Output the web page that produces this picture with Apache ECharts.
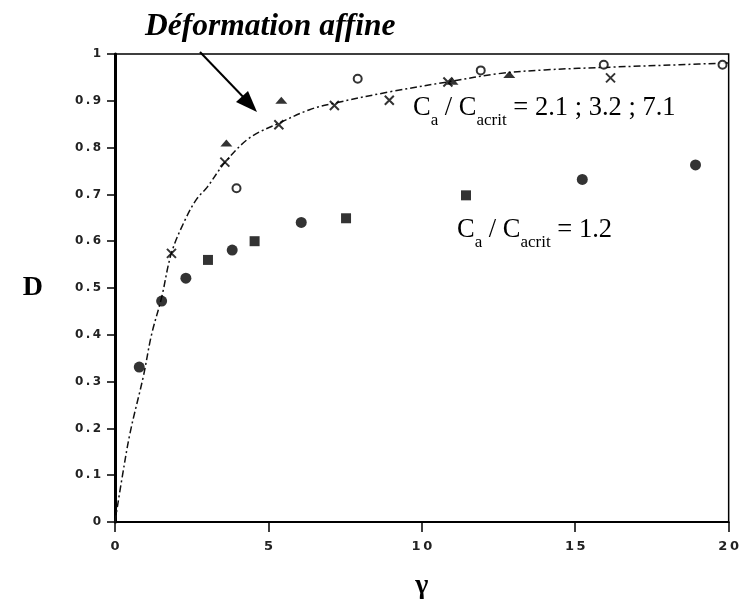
<!DOCTYPE html>
<html>
<head>
<meta charset="utf-8">
<style>
  html, body { margin: 0; padding: 0; background: #fff; }
  #chart { width: 742px; height: 605px; }
</style>
<script src="https://cdn.jsdelivr.net/npm/echarts@6/dist/echarts.min.js"></script>
</head>
<body>
<div id="chart"></div>
<script>
// D versus shear strain γ for several concentration ratios Ca / Cacrit

// Affine deformation prediction (dash-dot curve)
const affineGamma = [0, 0.22, 0.49, 0.92, 1.19, 1.52, 1.84, 2.28, 2.66, 3.0, 3.58, 4.39, 5.34, 6.34, 7.15, 8.94, 10.9, 12.5, 14.0, 16.2, 18.4, 20];
const affineD     = [0, 0.09, 0.19, 0.31, 0.40, 0.48, 0.575, 0.645, 0.69, 0.715, 0.768, 0.821, 0.852, 0.881, 0.895, 0.919, 0.941, 0.958, 0.966, 0.972, 0.977, 0.981];

// Ca / Cacrit = 1.2 (filled markers)
const lowDotGamma = [0.79, 1.52, 2.31, 3.82, 6.07, 15.23, 18.92];
const lowDotD     = [0.331, 0.472, 0.521, 0.581, 0.640, 0.732, 0.763];
const lowSqGamma  = [3.03, 4.55, 7.53, 11.44];
const lowSqD      = [0.560, 0.600, 0.649, 0.698];

// Ca / Cacrit = 2.1 ; 3.2 ; 7.1
const crossGamma  = [1.84, 3.58, 5.34, 7.15, 8.94, 10.85, 16.15];
const crossD      = [0.574, 0.769, 0.849, 0.890, 0.901, 0.940, 0.949];
const triGamma    = [3.63, 5.42, 11.0, 12.85];
const triD        = [0.810, 0.901, 0.942, 0.956];
const ringGamma   = [3.96, 7.91, 11.92, 15.93, 19.8];
const ringD       = [0.713, 0.947, 0.965, 0.977, 0.977];

// Axis ticks
const xTicks = [0, 5, 10, 15, 20];
const yTicks = [0, 0.1, 0.2, 0.3, 0.4, 0.5, 0.6, 0.7, 0.8, 0.9, 1];

const pairs = (xs, ys) => xs.map((x, i) => [x, ys[i]]);
// spread tick-label glyphs a little with thin spaces
const spaced = s => s.split('').join('\u2009');

const chart = echarts.init(document.getElementById('chart'), null, { renderer: 'canvas' });

const serif = '"Liberation Serif", "Times New Roman", serif';
const sans = '"DejaVu Sans", Arial, sans-serif';

const annotRich = {
  m: { fontFamily: serif, fontSize: 26.5, fill: '#000', verticalAlign: 'bottom', lineHeight: 28 },
  s: { fontFamily: serif, fontSize: 17, fill: '#000', verticalAlign: 'bottom', lineHeight: 20, padding: [0, 0, -7, 0] }
};

chart.setOption({
  animation: false,
  backgroundColor: '#fff',
  grid: {
    left: 115, right: 12, top: 54, bottom: 71,
    show: true, borderColor: '#000', borderWidth: 1.5, backgroundColor: 'transparent'
  },
  xAxis: {
    type: 'value', min: 0, max: 20, interval: 5,
    axisLine: { show: true, onZero: false, lineStyle: { color: '#000', width: 2 } },
    axisTick: { show: true, inside: false, length: 10, lineStyle: { color: '#000', width: 1.5 } },
    axisLabel: {
      color: '#222', fontFamily: sans, fontSize: 13, fontWeight: 'bold', margin: 18,
      formatter: v => xTicks.includes(v) ? spaced(String(v)) : ''
    },
    splitLine: { show: false },
    name: 'γ', nameLocation: 'middle', nameGap: 50,
    nameTextStyle: { fontFamily: serif, fontWeight: 'bold', fontSize: 28, color: '#000' }
  },
  yAxis: {
    type: 'value', min: 0, max: 1, interval: 0.1,
    axisLine: { show: true, onZero: false, lineStyle: { color: '#000', width: 3 } },
    axisTick: { show: true, inside: false, length: 8, lineStyle: { color: '#000', width: 1.5 } },
    axisLabel: {
      color: '#222', fontFamily: sans, fontSize: 12, fontWeight: 'bold', margin: 14,
      formatter: v => {
        const t = yTicks.find(k => Math.abs(k - v) < 1e-6);
        return t === undefined ? '' : spaced(String(t));
      }
    },
    splitLine: { show: false },
    name: 'D', nameLocation: 'middle', nameGap: 72, nameRotate: 0,
    nameTextStyle: { fontFamily: serif, fontWeight: 'bold', fontSize: 28, color: '#000', padding: [0, 0, 28, 0] }
  },
  series: [
    {
      name: 'affine', type: 'line', data: pairs(affineGamma, affineD),
      smooth: 0.35, showSymbol: false, symbol: 'none',
      lineStyle: { color: '#111', width: 1.5, type: [7, 3, 2, 3] },
      z: 2
    },
    {
      name: 'c12dot', type: 'scatter', data: pairs(lowDotGamma, lowDotD),
      symbol: 'circle', symbolSize: 11,
      itemStyle: { color: '#000' }, z: 3
    },
    {
      name: 'c12sq', type: 'scatter', data: pairs(lowSqGamma, lowSqD),
      symbol: 'rect', symbolSize: 10,
      itemStyle: { color: '#000' }, z: 3
    },
    {
      name: 'cross', type: 'scatter', data: pairs(crossGamma, crossD),
      symbol: 'path://M0,0 L10,10 M10,0 L0,10', symbolSize: 9,
      itemStyle: { color: 'transparent', borderColor: '#000', borderWidth: 2 }, z: 3
    },
    {
      name: 'tri', type: 'scatter', data: pairs(triGamma, triD),
      symbol: 'triangle', symbolSize: [12, 7],
      itemStyle: { color: '#000' }, z: 3
    },
    {
      name: 'ring', type: 'scatter', data: pairs(ringGamma, ringD),
      symbol: 'emptyCircle', symbolSize: 8,
      itemStyle: { color: '#000', borderColor: '#000', borderWidth: 1.8 }, z: 3
    }
  ],
  graphic: [
    {
      type: 'text', left: 145, top: 11,
      style: {
        text: 'Déformation affine',
        font: 'italic bold 31.5px ' + serif, fill: '#000'
      }
    },
    {
      type: 'line',
      shape: { x1: 200, y1: 52, x2: 249, y2: 103 },
      style: { stroke: '#000', lineWidth: 2 }
    },
    {
      type: 'polygon',
      shape: { points: [[257, 112], [236, 102], [248, 91]] },
      style: { fill: '#000' }
    },
    {
      type: 'text', left: 413, top: 95,
      style: { text: '{m|C}{s|a}{m| / C}{s|acrit}{m| = 2.1 ; 3.2 ; 7.1}', rich: annotRich }
    },
    {
      type: 'text', left: 457, top: 217,
      style: { text: '{m|C}{s|a}{m| / C}{s|acrit}{m| = 1.2}', rich: annotRich }
    }
  ]
});
</script>
</body>
</html>
